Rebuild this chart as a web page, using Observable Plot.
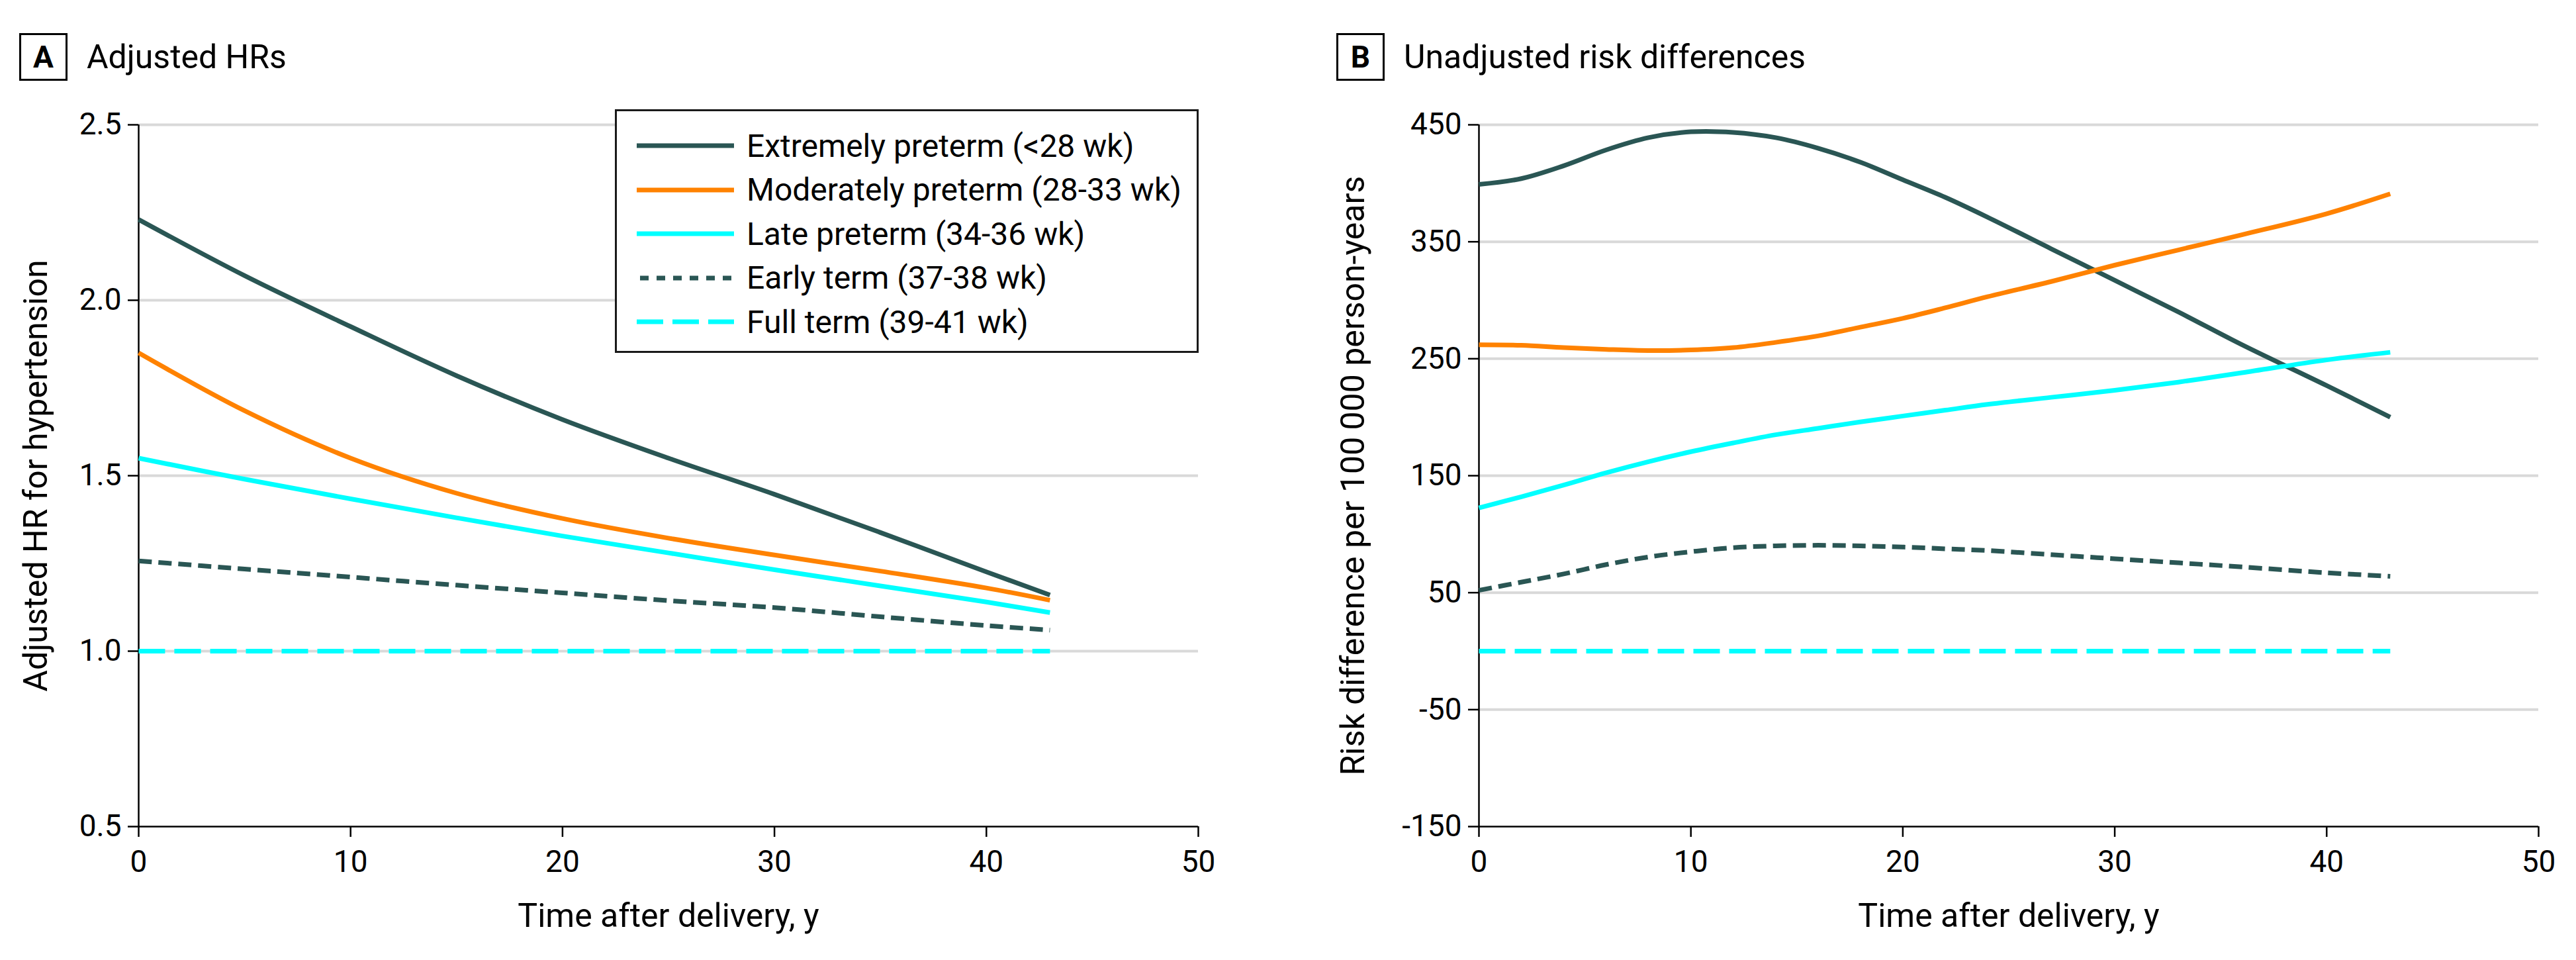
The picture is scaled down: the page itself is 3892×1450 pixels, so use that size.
<!DOCTYPE html>
<html>
<head>
<meta charset="utf-8">
<script src="https://cdn.jsdelivr.net/npm/d3@7"></script>
<script src="https://cdn.jsdelivr.net/npm/@observablehq/plot@0.6"></script>
<style>
  body { margin: 0; background: #fff; }
  #root { position: relative; width: 3892px; height: 1450px; background: #fff; overflow: hidden;
          font-family: Roboto, "Liberation Sans", sans-serif; color: #000; }
  .chart { position: absolute; top: 140px; }
  .ptitle { position: absolute; top: 50px; height: 72px; display: flex; align-items: center; }
  .pbox { box-sizing: border-box; width: 73px; height: 72px; border: 3px solid #000; display: flex;
          align-items: center; justify-content: center; font-weight: 700; font-size: 46px; }
  .ptext { font-size: 50px; margin-left: 29px; white-space: nowrap; }
  .legend { position: absolute; box-sizing: border-box; border: 3px solid #1a1a1a; background: #fff; }
  .lrow { position: absolute; left: 0; height: 60px; display: flex; align-items: center; }
  .lrow svg { margin-left: 30px; }
  .lrow span { margin-left: 19px; font-size: 48px; white-space: nowrap; }
</style>
</head>
<body>
<div id="root"></div>
<script>
// ---------------- data ----------------
const seriesNames = [
  "Extremely preterm (<28 wk)",
  "Moderately preterm (28-33 wk)",
  "Late preterm (34-36 wk)",
  "Early term (37-38 wk)",
  "Full term (39-41 wk)"
];

// Panel A: adjusted hazard ratios
const yearsA = [0, 5, 10, 15, 20, 25, 30, 35, 40, 43];
const hrExtremely = [2.23, 2.07, 1.925, 1.785, 1.66, 1.55, 1.447, 1.338, 1.226, 1.16];
const hrModerately = [1.85, 1.685, 1.55, 1.45, 1.378, 1.322, 1.274, 1.228, 1.18, 1.145];
const hrLate = [1.55, 1.49, 1.434, 1.38, 1.328, 1.28, 1.232, 1.186, 1.14, 1.11];
const hrEarly = [1.257, 1.234, 1.211, 1.188, 1.166, 1.144, 1.124, 1.098, 1.073, 1.06];
const hrFull = [1, 1, 1, 1, 1, 1, 1, 1, 1, 1];

// Panel B: unadjusted risk differences per 100 000 person-years
const yearsB = [0, 2, 4, 6, 8, 10, 12, 14, 16, 18, 20, 22, 24, 27, 30, 33, 36, 40, 43];
const rdExtremely = [399, 404, 415, 428.5, 439, 444, 443.5, 439, 430, 418, 403, 388, 371, 344, 317, 290, 262, 227, 200];
const rdModerately = [262, 261.5, 259.5, 258, 257, 257.5, 259.5, 264, 269.5, 277, 284.5, 293.5, 303, 316, 330, 343, 356, 374, 391];
const rdLate = [122.5, 132, 142, 152.5, 162, 170.5, 178, 185, 190.5, 196, 201, 206, 211, 217, 223, 230, 238, 249, 255.5];
const rdEarly = [52, 59, 66, 74, 80.5, 85, 88.5, 90, 90.5, 90, 89, 87.5, 86, 82.5, 79, 75.5, 72, 67, 64];
const rdFull = [0, 0, 0, 0, 0, 0, 0, 0, 0, 0, 0, 0, 0, 0, 0, 0, 0, 0, 0];

const xTicks = [0, 10, 20, 30, 40, 50];
const yTicksA = [0.5, 1.0, 1.5, 2.0, 2.5];
const yTicksB = [-150, -50, 50, 150, 250, 350, 450];

const titleA = "Adjusted HRs";
const titleB = "Unadjusted risk differences";
const xLabel = "Time after delivery, y";
const yLabelA = "Adjusted HR for hypertension";
const yLabelB = "Risk difference per 100\u2009000 person-years";

// ---------------- styles ----------------
const COLORS = ["#2a5654", "#ff8200", "#00ffff", "#2a5654", "#00ffff"];
const DASHES = [null, null, null, "20,10", "40,14"];
const FONT = 'Roboto, "Liberation Sans", sans-serif';

function rows(years, values, name) {
  return years.map((x, i) => ({x, y: values[i], s: name}));
}

function makeChart(years, seriesValues, yDomain, yTicks, yFormat, yLabel, yLabelDx, width, marginRight) {
  const lineMarks = seriesValues.map((vals, k) =>
    Plot.line(rows(years, vals, seriesNames[k]), {
      x: "x", y: "y", stroke: COLORS[k], strokeWidth: 7,
      strokeDasharray: DASHES[k] || undefined, curve: "catmull-rom", strokeLinecap: "butt"
    })
  );
  return Plot.plot({
    width, height: 1310,
    marginLeft: 209, marginRight, marginTop: 48, marginBottom: 202,
    x: {domain: [0, 50]},
    y: {domain: yDomain},
    style: {fontFamily: FONT, fontSize: "46px", color: "#000", background: "transparent", overflow: "visible"},
    marks: [
      Plot.ruleY(yTicks.slice(1), {stroke: "#d9d9d9", strokeWidth: 4}),
      Plot.axisX({ticks: xTicks, tickSize: 16, tickPadding: 20, tickFormat: d => String(d),
                  label: null, fontSize: 46, strokeWidth: 2.5}),
      Plot.axisY({ticks: yTicks, tickSize: 16, tickPadding: 10, tickFormat: yFormat,
                  label: null, fontSize: 46, strokeWidth: 2.5}),
      Plot.ruleX([0], {stroke: "#000", strokeWidth: 2.5}),
      Plot.ruleY([yDomain[0]], {stroke: "#000", strokeWidth: 2.5}),
      ...lineMarks,
      Plot.text([xLabel], {text: d => d, frameAnchor: "bottom", lineAnchor: "top", textAnchor: "middle", dy: 116, fontSize: 50}),
      Plot.text([yLabel], {text: d => d, frameAnchor: "left", rotate: -90, lineAnchor: "top", textAnchor: "middle", dx: yLabelDx, fontSize: 50})
    ]
  });
}

const root = document.getElementById("root");

function addTitle(letter, text, left) {
  const t = document.createElement("div");
  t.className = "ptitle";
  t.style.left = left + "px";
  t.innerHTML = `<div class="pbox">${letter}</div><div class="ptext">${text}</div>`;
  root.appendChild(t);
}

// Panel A
const chartA = makeChart(yearsA, [hrExtremely, hrModerately, hrLate, hrEarly, hrFull],
  [0.5, 2.5], yTicksA, d3.format(".1f"), yLabelA, -174, 1900, 90);
chartA.classList.add("chart");
chartA.style.left = "0px";
root.appendChild(chartA);

// Panel B
const chartB = makeChart(yearsB, [rdExtremely, rdModerately, rdLate, rdEarly, rdFull],
  [-150, 450], yTicksB, d => String(d), yLabelB, -209, 1867, 57);
chartB.classList.add("chart");
chartB.style.left = "2025px";
root.appendChild(chartB);

addTitle("A", titleA, 29);
addTitle("B", titleB, 2019);

// Legend (panel A)
const legend = document.createElement("div");
legend.className = "legend";
Object.assign(legend.style, {left: "929px", top: "165px", width: "882px", height: "368px"});
seriesNames.forEach((name, k) => {
  const row = document.createElement("div");
  row.className = "lrow";
  row.style.top = (22 + k * 66.5) + "px";
  const dash = DASHES[k] ? `stroke-dasharray="${DASHES[k] === "20,10" ? "13,12" : "40,14"}"` : "";
  const offset = DASHES[k] === "20,10" ? 'stroke-dashoffset="-5"' : "";
  row.innerHTML = `<svg width="147" height="20"><line x1="0" x2="147" y1="10" y2="10" stroke="${COLORS[k]}" stroke-width="7" ${dash} ${offset}/></svg><span>${name.replace("<", "&lt;")}</span>`;
  legend.appendChild(row);
});
root.appendChild(legend);
</script>
</body>
</html>
